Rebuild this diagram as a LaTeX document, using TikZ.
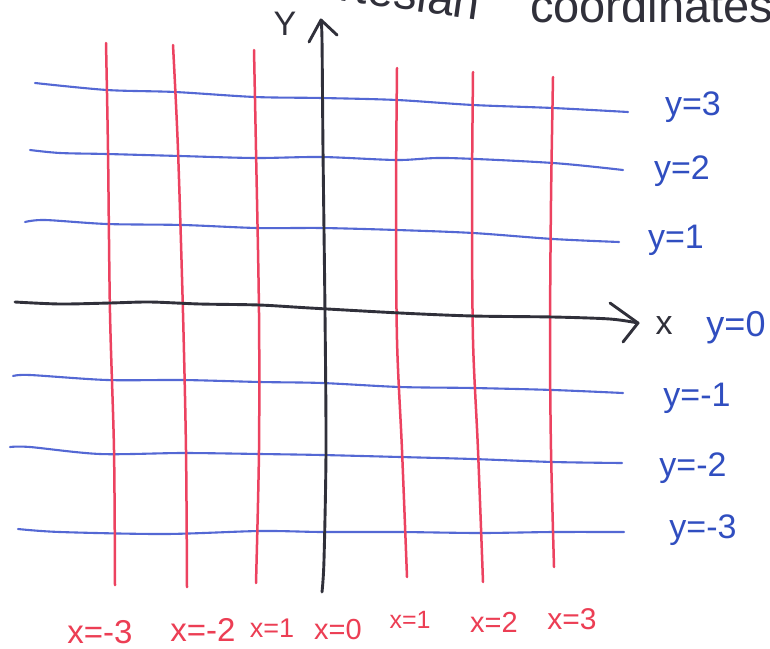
\documentclass[tikz,border=0pt]{standalone}
\usepackage{fontspec}
\setmainfont{Liberation Sans}
\definecolor{gridred}{RGB}{236,66,96}
\definecolor{gridblue}{RGB}{84,104,212}
\definecolor{labelblue}{RGB}{48,78,192}
\definecolor{labelred}{RGB}{236,62,84}
\definecolor{axisblack}{RGB}{48,48,58}
\tikzset{
  hline/.style={gridblue, line width=2.1pt, line cap=round, line join=round},
  vline/.style={gridred, line width=2.5pt, line cap=round, line join=round},
  axisline/.style={axisblack, line width=2.9pt, line cap=round, line join=round},
  ylab/.style={labelblue, inner sep=0pt, font=\fontsize{34}{36}\selectfont},
  xlab/.style={labelred, inner sep=0pt},
  blacklab/.style={axisblack, inner sep=0pt, font=\fontsize{34}{36}\selectfont},
  titlelab/.style={axisblack, inner sep=0pt, font=\fontsize{47}{50}\selectfont}
}
\begin{document}
\begin{tikzpicture}[x=1pt, y=-1pt]
\useasboundingbox (0,0) rectangle (770,648);
\clip (0,0) rectangle (770,648);
\fill[white] (0,0) rectangle (770,648);

% title (cut off at the top)
\node[titlelab, anchor=base east, rotate=-8] (t1) at (478,20) {Cartesian};
\node[titlelab, anchor=base west] (t2) at (530,22) {coordinates};

% blue horizontal lines
\draw[hline] plot[smooth, tension=0.5] coordinates {(35,83) (107,90) (175,92) (255,97) (322,98) (397,100) (473,105) (553,108) (628,112)};
\draw[hline] plot[smooth, tension=0.5] coordinates {(30,150) (60,153) (107,154) (180,156) (255,158) (322,157) (397,160) (447,158) (553,163) (623,170)};
\draw[hline] plot[smooth, tension=0.5] coordinates {(25,222) (45,220) (107,224) (183,225) (257,228) (322,228) (397,230) (473,233) (553,239) (619,242)};
\draw[hline] plot[smooth, tension=0.5] coordinates {(13,376) (30,375) (107,380) (183,380) (260,382) (322,383) (400,387) (473,388) (553,390) (623,393)};
\draw[hline] plot[smooth, tension=0.5] coordinates {(10,447) (30,447) (100,454) (183,453) (260,454) (322,455) (400,457) (473,459) (553,462) (622,463)};
\draw[hline] plot[smooth, tension=0.5] coordinates {(18,529) (60,532) (165,534) (260,531) (322,532) (400,532) (480,533) (553,532) (624,532)};

% red vertical lines
\draw[vline] plot[smooth, tension=0.5] coordinates {(106,43) (108,150) (110,313) (114,450) (115,585)};
\draw[vline] plot[smooth, tension=0.5] coordinates {(173,45) (178,150) (183,313) (186,450) (187,587)};
\draw[vline] plot[smooth, tension=0.5] coordinates {(254,50) (256,150) (259,313) (259,450) (256,583)};
\draw[vline] plot[smooth, tension=0.5] coordinates {(397,68) (396,200) (397,340) (402,450) (407,577)};
\draw[vline] plot[smooth, tension=0.5] coordinates {(473,72) (472,200) (473,340) (478,450) (483,582)};
\draw[vline] plot[smooth, tension=0.5] coordinates {(553,77) (551,200) (550,340) (551,450) (554,567)};

% axes
\coordinate (xtip) at (638,323);
\coordinate (ytip) at (321,20);
\draw[axisline] plot[smooth, tension=0.5] coordinates {(15,302) (60,304) (110,303) (150,302) (200,304) (259,305) (310,308) (400,313) (473,316) (553,317) (610,319) (638,323)};
\draw[axisline] (610,303) -- (xtip) -- (623,342);
\draw[axisline] plot[smooth, tension=0.5] coordinates {(321,20) (322,40) (323,150) (325,313) (326,450) (324,560) (322,592)};
\draw[axisline] (309,42) -- (ytip) -- (337,35);

% axis names
\node[blacklab] (ylabel) at (285,24) {Y};
\node[blacklab] (xlabel) at (664,326) {x};

% right labels
\node[ylab] (y3) at (693,107) {y=3};
\node[ylab] (y2) at (682,171) {y=2};
\node[ylab] (y1) at (676,240) {y=1};
\node[ylab, font=\fontsize{36}{38}\selectfont] (y0) at (736,328) {y=0};
\node[ylab] (ym1) at (697,398) {y=-1};
\node[ylab] (ym2) at (693,468) {y=-2};
\node[ylab] (ym3) at (703,530) {y=-3};

% bottom labels
\node[xlab, font=\fontsize{33}{35}\selectfont] (xm3) at (100,632) {x=-3};
\node[xlab, font=\fontsize{33}{35}\selectfont] (xm2) at (203,630) {x=-2};
\node[xlab, font=\fontsize{27}{29}\selectfont] (xm1) at (272,628) {x=1};
\node[xlab, font=\fontsize{29}{31}\selectfont] (x0) at (338,630) {x=0};
\node[xlab, font=\fontsize{25}{27}\selectfont] (x1) at (410,620) {x=1};
\node[xlab, font=\fontsize{29}{31}\selectfont] (x2) at (494,622) {x=2};
\node[xlab, font=\fontsize{30}{32}\selectfont] (x3) at (572,619) {x=3};
\end{tikzpicture}
\end{document}
